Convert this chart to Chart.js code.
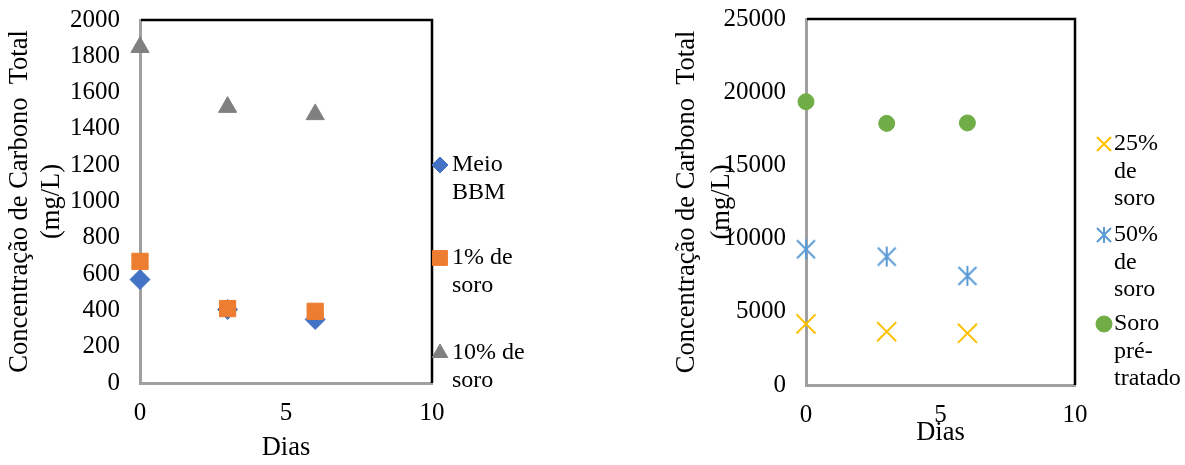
<!DOCTYPE html>
<html>
<head>
<meta charset="utf-8">
<script src="https://cdn.jsdelivr.net/npm/chart.js@4.4.1/dist/chart.umd.min.js"></script>
<style>
  html, body { margin: 0; padding: 0; background: #ffffff; }
  #wrap { position: relative; width: 1185px; height: 465px; overflow: hidden; }
  .box { position: absolute; top: 0; height: 465px; }
</style>
</head>
<body>
<div id="wrap">
  <div class="box" style="left:0;width:560px"><canvas id="cLow"></canvas></div>
  <div class="box" style="left:560px;width:625px"><canvas id="cHigh"></canvas></div>
</div>
<script>
// Sampling days
const dias = [0, 3, 6];

// Total carbon (mg/L), low-concentration media
const meioBBM = [570, 405, 350];
const soro1 = [670, 410, 395];
const soro10 = [1850, 1520, 1480];

// Total carbon (mg/L), whey-rich media
const soro25 = [4170, 3640, 3530];
const soro50 = [9270, 8770, 7450];
const soroPre = [19350, 17870, 17900];

// Tick labels
const xTicks = [0, 5, 10];
const yTicksLow = [0, 200, 400, 600, 800, 1000, 1200, 1400, 1600, 1800, 2000];
const yTicksHigh = [0, 5000, 10000, 15000, 20000, 25000];

// Text
const yTitleLines = ['Concentração de Carbono  Total', '(mg/L)'];
const xTitle = 'Dias';
const legendLow = [['Meio', 'BBM'], ['1% de', 'soro'], ['10% de', 'soro']];
const legendHigh = [['25%', 'de', 'soro'], ['50%', 'de', 'soro'], ['Soro', 'pré-', 'tratado']];

const SERIF = '"Liberation Serif", "Times New Roman", "DejaVu Serif", serif';

// Asterisk marker (X with a vertical bar)
function asterisk(half, vhalf, color, lw) {
  const s = Math.ceil(Math.max(half, vhalf) * 2 + lw * 2 + 2);
  const c = document.createElement('canvas');
  c.width = s; c.height = s;
  const g = c.getContext('2d');
  const m = s / 2;
  g.strokeStyle = color; g.lineWidth = lw; g.lineCap = 'butt';
  g.beginPath();
  g.moveTo(m - half, m - half); g.lineTo(m + half, m + half);
  g.moveTo(m - half, m + half); g.lineTo(m + half, m - half);
  g.moveTo(m, m - vhalf); g.lineTo(m, m + vhalf);
  g.stroke();
  return c;
}
const starMark = asterisk(9, 10, '#5B9BD5', 2);
const starMarkSmall = asterisk(7, 8, '#5B9BD5', 2);

function pts(ys) { return dias.map((d, i) => ({ x: d, y: ys[i] })); }

// Frame, titles and wrapped legend
const decor = {
  id: 'decor',
  beforeDatasetsDraw(chart, args, o) {
    const { ctx, chartArea: a } = chart;
    ctx.save();
    ctx.strokeStyle = '#000000';
    ctx.lineWidth = 2.5;
    ctx.beginPath();
    ctx.moveTo(a.left + 1, a.top);
    ctx.lineTo(a.right, a.top);
    ctx.lineTo(a.right, a.bottom);
    ctx.stroke();
    ctx.restore();
  },
  afterDraw(chart, args, o) {
    const { ctx, chartArea: a } = chart;
    ctx.save();
    ctx.fillStyle = '#000000';
    ctx.textAlign = 'center';
    ctx.textBaseline = 'middle';
    ctx.font = '26.5px ' + SERIF;
    // y title
    const cy = (a.top + a.bottom) / 2;
    yTitleLines.forEach((t, i) => {
      ctx.save();
      ctx.translate(o.yTitleX[i], cy);
      ctx.rotate(-Math.PI / 2);
      ctx.fillText(t, 0, 0);
      ctx.restore();
    });
    // x title
    ctx.fillText(xTitle, (a.left + a.right) / 2, o.xTitleY);
    // legend
    ctx.font = '24px ' + SERIF;
    ctx.textAlign = 'left';
    o.items.forEach((it, k) => {
      const ds = chart.data.datasets[k];
      ctx.save();
      ctx.fillStyle = ds.backgroundColor;
      ctx.strokeStyle = ds.borderColor;
      ctx.lineWidth = ds.borderWidth;
      Chart.helpers.drawPoint(ctx, {
        pointStyle: it.style || ds.pointStyle,
        radius: it.r,
        rotation: 0,
        borderWidth: ds.borderWidth
      }, o.markerX, it.y);
      ctx.restore();
      it.lines.forEach((ln, j) => {
        ctx.fillText(ln, o.textX, it.y + j * o.gap);
      });
    });
    ctx.restore();
  }
};

function baseScales(yTicks, yMax, yWidth, xHeight, xPad) {
  return {
    x: {
      type: 'linear', min: 0, max: 10,
      afterBuildTicks: s => { s.ticks = xTicks.map(v => ({ value: v })); },
      afterFit: s => { s.height = xHeight; s.paddingLeft = 0; s.paddingRight = 0; },
      grid: { display: false, drawTicks: false },
      border: { display: true, color: '#A0A0A0', width: 3 },
      ticks: { padding: xPad, color: '#000000', font: { family: SERIF, size: 25 }, maxRotation: 0,
               callback: v => String(v) }
    },
    y: {
      type: 'linear', min: 0, max: yMax,
      afterBuildTicks: s => { s.ticks = yTicks.map(v => ({ value: v })); },
      afterFit: s => { s.width = yWidth; s.paddingTop = 0; s.paddingBottom = 0; },
      grid: { display: false, drawTicks: false },
      border: { display: true, color: '#A0A0A0', width: 3 },
      ticks: { padding: 20, color: '#000000', font: { family: SERIF, size: 25 },
               callback: v => String(v) }
    }
  };
}

// Left chart: BBM medium and low whey fractions
new Chart(document.getElementById('cLow'), {
  type: 'scatter',
  data: {
    datasets: [
      { label: 'Meio BBM', data: pts(meioBBM), pointStyle: 'rectRot', pointRadius: 10,
        backgroundColor: '#4472C4', borderColor: '#4472C4', borderWidth: 1, order: 3, clip: false },
      { label: '1% de soro', data: pts(soro1), pointStyle: 'rect', pointRadius: 11.5,
        backgroundColor: '#ED7D31', borderColor: '#ED7D31', borderWidth: 1, order: 2, clip: false },
      { label: '10% de soro', data: pts(soro10), pointStyle: 'triangle', pointRadius: 10.5,
        backgroundColor: '#808080', borderColor: '#808080', borderWidth: 1, order: 1, clip: false }
    ]
  },
  options: {
    responsive: true, maintainAspectRatio: false, animation: false,
    layout: { padding: { top: 20, left: 0, right: 128, bottom: 0 } },
    scales: baseScales(yTicksLow, 2000, 140, 82, 15),
    plugins: {
      legend: { display: false }, tooltip: { enabled: false },
      decor: {
        yTitleX: [20, 52], xTitleY: 448, markerX: 440, textX: 452, gap: 28,
        items: [
          { y: 165, lines: legendLow[0], r: 8 },
          { y: 258, lines: legendLow[1], r: 10.5 },
          { y: 353, lines: legendLow[2], r: 9 }
        ]
      }
    }
  },
  plugins: [decor]
});

// Right chart: whey-rich media
new Chart(document.getElementById('cHigh'), {
  type: 'scatter',
  data: {
    datasets: [
      { label: '25% de soro', data: pts(soro25), pointStyle: 'crossRot', pointRadius: 13.5,
        backgroundColor: '#FFC000', borderColor: '#FFC000', borderWidth: 2, order: 3, clip: false },
      { label: '50% de soro', data: pts(soro50), pointStyle: starMark, pointRadius: 10,
        backgroundColor: '#5B9BD5', borderColor: '#5B9BD5', borderWidth: 2, order: 2, clip: false },
      { label: 'Soro pré-tratado', data: pts(soroPre), pointStyle: 'circle', pointRadius: 8,
        backgroundColor: '#70AD47', borderColor: '#70AD47', borderWidth: 1, order: 1, clip: false }
    ]
  },
  options: {
    responsive: true, maintainAspectRatio: false, animation: false,
    layout: { padding: { top: 19, left: 0, right: 110, bottom: 0 } },
    scales: baseScales(yTicksHigh, 25000, 246, 80, 15),
    plugins: {
      legend: { display: false }, tooltip: { enabled: false },
      decor: {
        yTitleX: [127, 162], xTitleY: 433, markerX: 544, textX: 554, gap: 27.5,
        items: [
          { y: 144, lines: legendHigh[0], r: 10 },
          { y: 235, lines: legendHigh[1], r: 8, style: starMarkSmall },
          { y: 324, lines: legendHigh[2], r: 8 }
        ]
      }
    }
  },
  plugins: [decor]
});
</script>
</body>
</html>
